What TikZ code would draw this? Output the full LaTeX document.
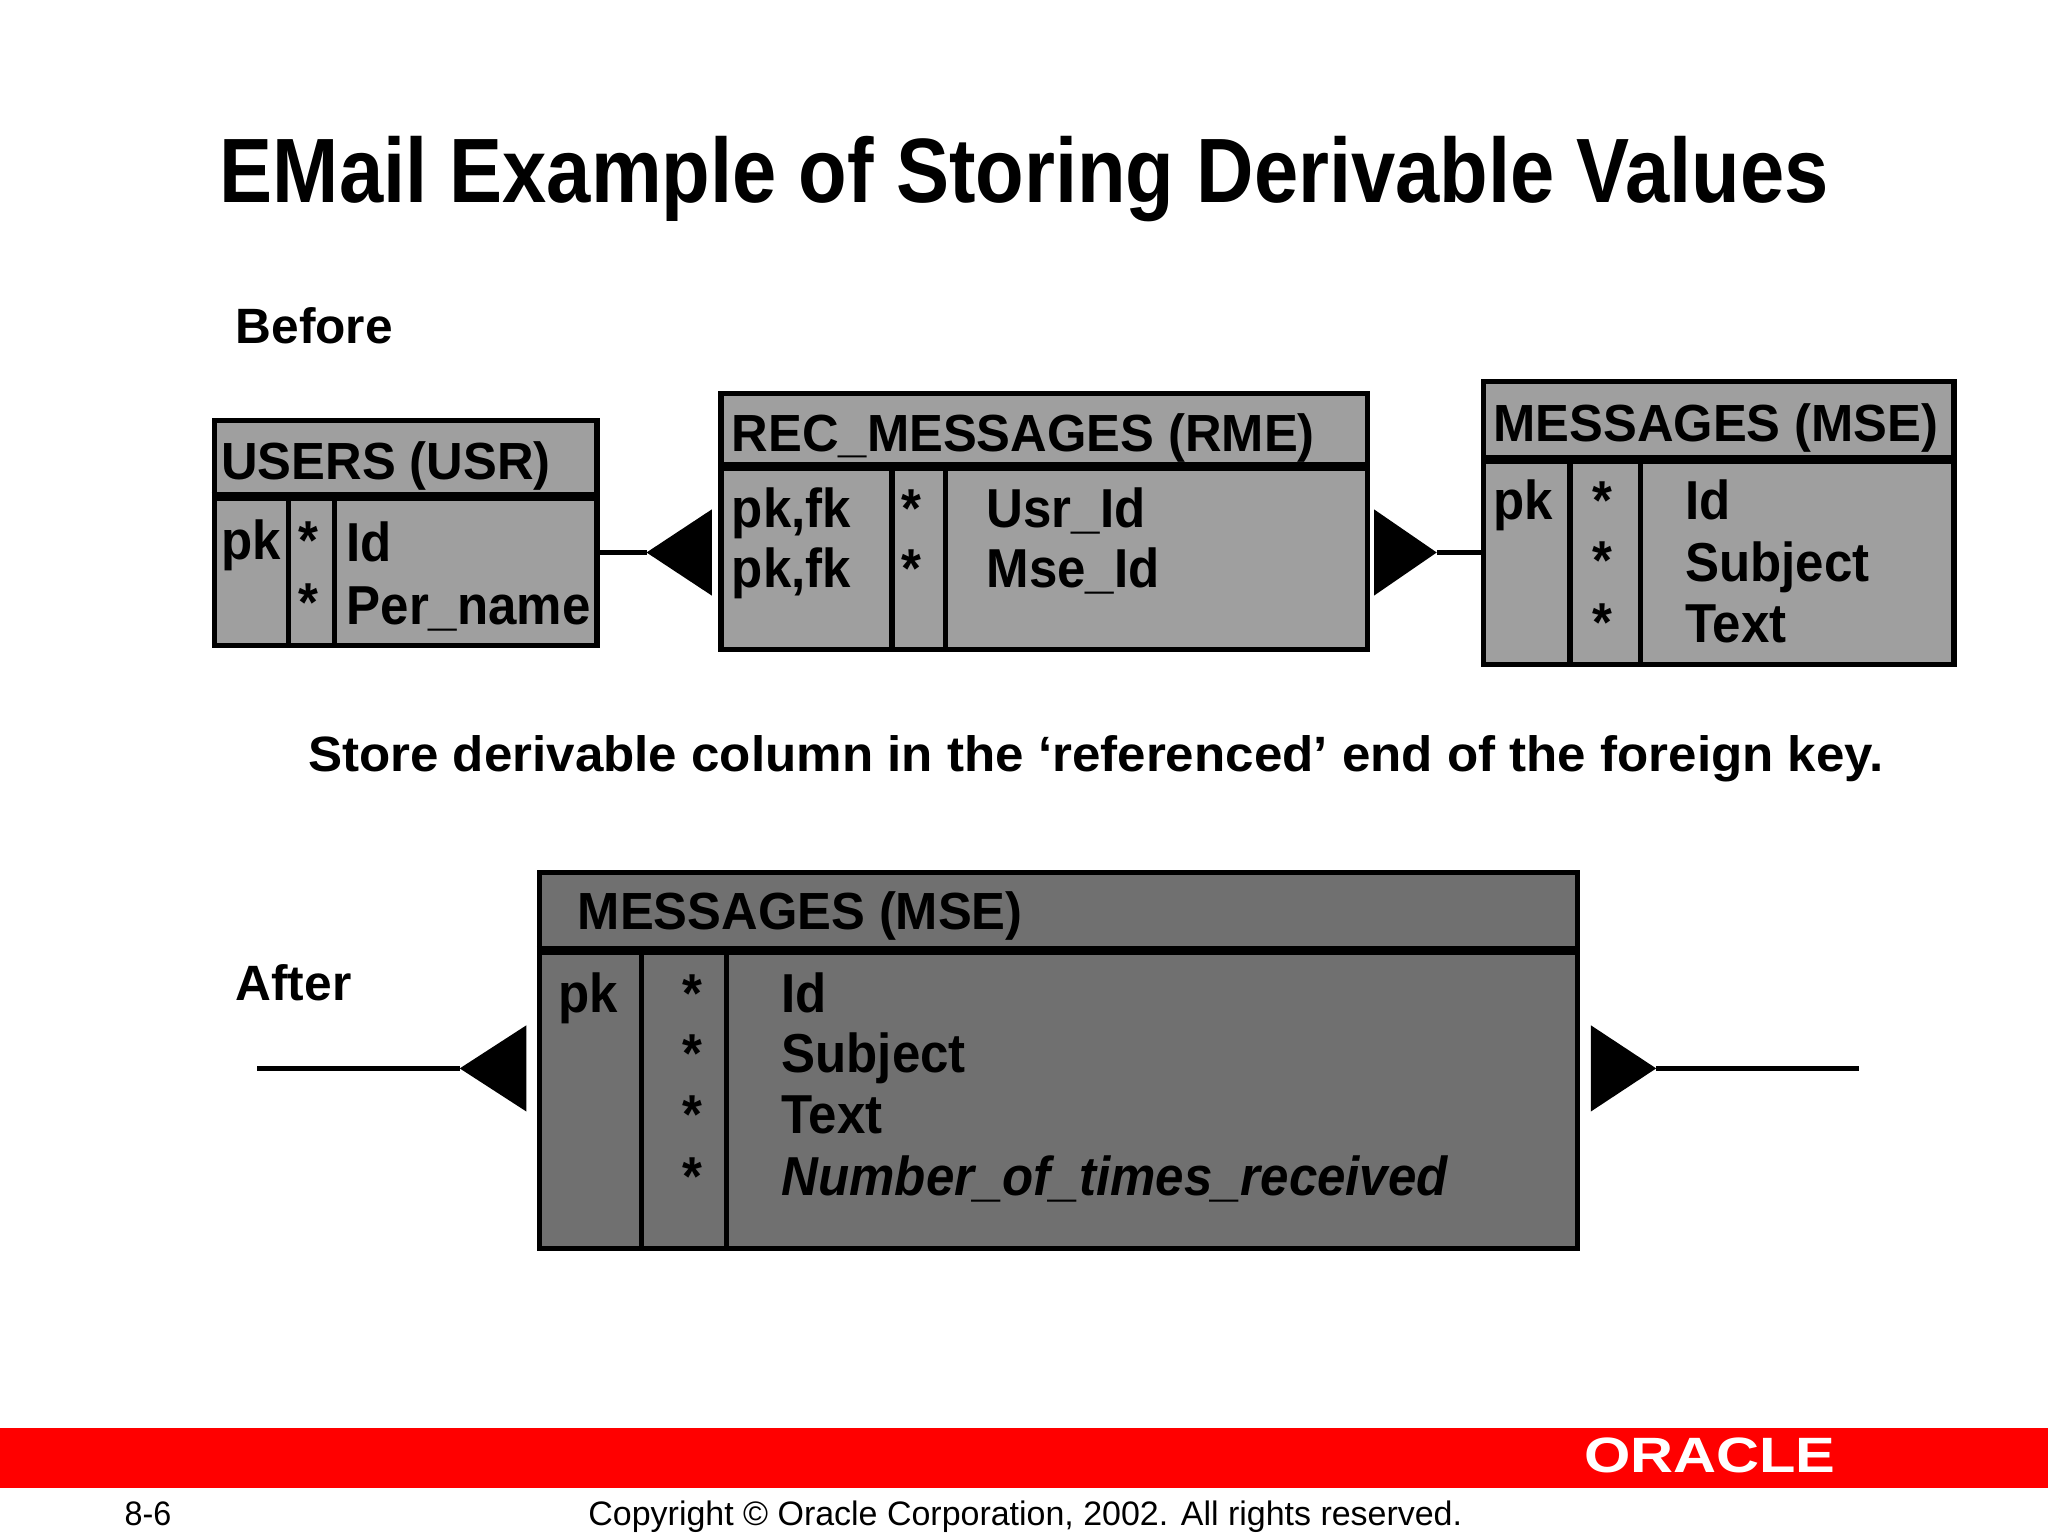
\documentclass[tikz,border=0pt]{standalone}
\usepackage{fontspec}
\setmainfont{Liberation Sans}
\definecolor{darkbox}{RGB}{112,112,112}
\begin{document}
\begin{tikzpicture}[x=0.5pt,y=-0.5pt,
  tbl/.style={draw=black,line width=2pt,fill=#1,anchor=north west,inner sep=0pt},
  sep/.style={line width=3.5pt},
  div/.style={line width=2pt},
  txt/.style={anchor=base west,inner sep=0pt,xscale=0.93,font=\fontsize{21}{24}\selectfont\bfseries},
  hd/.style={anchor=base west,inner sep=0pt,xscale=0.97,font=\fontsize{20}{24}\selectfont\bfseries},
  lbl/.style={anchor=base west,inner sep=0pt,font=\fontsize{19}{22}\selectfont\bfseries},
  crow/.style={fill=black},
  conn/.style={line width=2pt}]
\useasboundingbox (0,0) rectangle (1568,1176);
\node[anchor=base west,inner sep=0pt,xscale=0.87,font=\fontsize{35}{40}\selectfont\bfseries] (title) at (168,155) {EMail Example of Storing Derivable Values};
\node[lbl] (before) at (180,263) {Before};
% USERS
\node[tbl=gray!75,minimum width=146.5pt,minimum height=86pt] (usr) at (162,320) {};
\draw[sep] (162,380) -- (455,380);
\draw[div] (221,380) -- (221,492) (256,380) -- (256,492);
\node[hd] (usrh) at (169,367) {USERS (USR)};
\node[txt] (u1) at (169,428) {pk};
\node[txt] (u2) at (228,428) {*};
\node[txt] (u3) at (228,476) {*};
\node[txt] (u4) at (265,430) {Id};
\node[txt] (u5) at (265,478) {Per\_name};
% REC
\node[tbl=gray!75,minimum width=247.5pt,minimum height=98pt] (rme) at (550,299) {};
\draw[sep] (550,357) -- (1045,357);
\draw[div] (683,357) -- (683,495) (724,357) -- (724,495);
\node[hd] (rmeh) at (560,346) {REC\_MESSAGES (RME)};
\node[txt] (r1) at (560,404) {pk,fk};
\node[txt] (r2) at (560,450) {pk,fk};
\node[txt] (r3) at (690,404) {*};
\node[txt] (r4) at (690,450) {*};
\node[txt] (r5) at (755,404) {Usr\_Id};
\node[txt] (r6) at (755,450) {Mse\_Id};
% MSE
\node[tbl=gray!75,minimum width=180pt,minimum height=108.5pt] (mse) at (1134,290) {};
\draw[sep] (1134,352) -- (1494,352);
\draw[div] (1202,352) -- (1202,507) (1256,352) -- (1256,507);
\node[hd] (mseh) at (1143,338) {MESSAGES (MSE)};
\node[txt] (m1) at (1143,398) {pk};
\node[txt] (m2) at (1219,398) {*};
\node[txt] (m3) at (1219,444) {*};
\node[txt] (m4) at (1219,491) {*};
\node[txt] (m5) at (1290,398) {Id};
\node[txt] (m6) at (1290,445) {Subject};
\node[txt] (m7) at (1290,492) {Text};
% connectors before
\coordinate (t1) at (495,423);
\draw[conn] (usr.east |- t1) -- (t1);
\fill[crow] (t1) -- (545,390) -- (545,456) -- cycle;
\coordinate (t2) at (1100,423);
\fill[crow] (t2) -- (1052,390) -- (1052,456) -- cycle;
\draw[conn] (t2) -- (mse.west |- t2);
\node[anchor=base,inner sep=0pt,xscale=1.03,font=\fontsize{19}{22}\selectfont\bfseries] (store) at (839,591) {Store derivable column in the ‘referenced’ end of the foreign key.};
\node[lbl] (after) at (180,766) {After};
% After box
\node[tbl=darkbox,minimum width=397.5pt,minimum height=144pt] (mse2) at (411,666) {};
\draw[sep] (411,728) -- (1206,728);
\draw[div] (491,728) -- (491,954) (556,728) -- (556,954);
\node[hd] (mse2h) at (442,712) {MESSAGES (MSE)};
\node[txt] (a1) at (427,775) {pk};
\node[txt] (a2) at (522,775) {*};
\node[txt] (a3) at (522,821) {*};
\node[txt] (a4) at (522,868) {*};
\node[txt] (a5) at (522,915) {*};
\node[txt] (a6) at (598,775) {Id};
\node[txt] (a7) at (598,821) {Subject};
\node[txt] (a8) at (598,868) {Text};
\node[txt,font=\fontsize{21}{24}\selectfont\bfseries\itshape] (a9) at (598,915) {Number\_of\_times\_received};
\coordinate (l0) at (197,818);
\coordinate (l1) at (352,818);
\draw[conn] (l0) -- (l1);
\fill[crow] (l1) -- (403,785) -- (403,851) -- cycle;
\coordinate (r0) at (1268,818);
\coordinate (r1e) at (1423,818);
\fill[crow] (r0) -- (1218,785) -- (1218,851) -- cycle;
\draw[conn] (r0) -- (r1e);
% footer
\fill[red] (0,1093) rectangle (1568,1139);
\node[anchor=base,inner sep=0pt,text=white,font=\fontsize{19}{22}\selectfont\bfseries,xscale=1.2] (oracle) at (1309,1127) {ORACLE};
\node[anchor=base west,inner sep=0pt,font=\fontsize{13}{15}\selectfont,xscale=0.95] (pg) at (95,1168) {8-6};
\node[anchor=base,inner sep=0pt,font=\fontsize{13}{15}\selectfont] (copy) at (785,1168) {Copyright © Oracle Corporation, 2002. All rights reserved.};
\end{tikzpicture}
\end{document}
